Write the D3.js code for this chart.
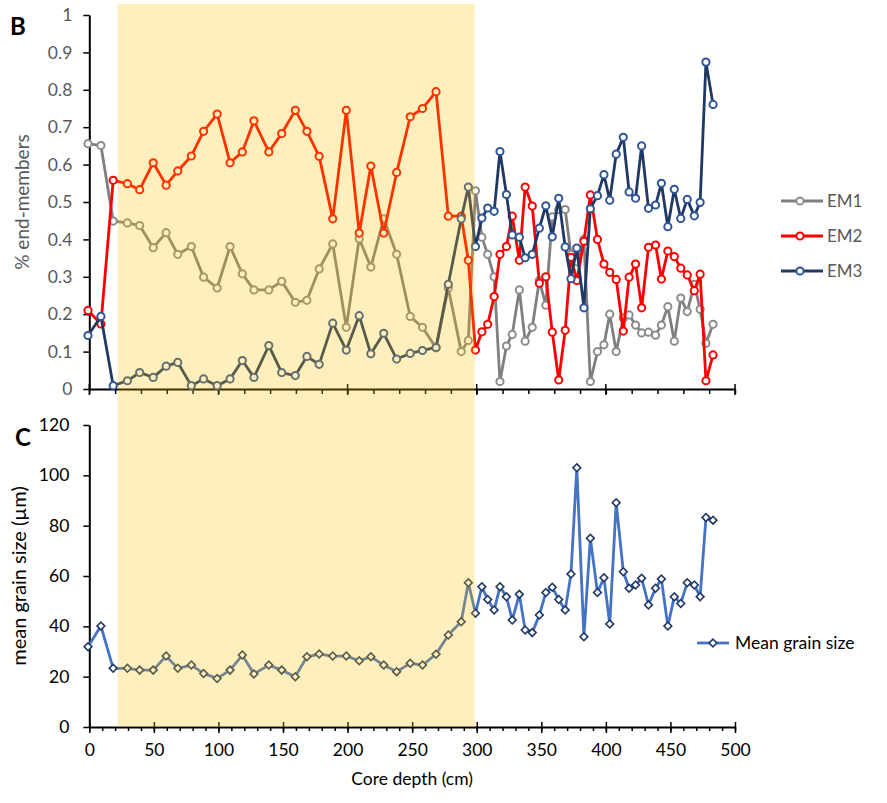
<!DOCTYPE html>
<html>
<head>
<meta charset="utf-8">
<script src="https://cdn.jsdelivr.net/npm/d3@7"></script>
<style>
body { margin: 0; background: #fff; }
svg text { font-family: Lato, "Liberation Sans", sans-serif; }
</style>
</head>
<body>
<svg id="chart" width="887" height="803"></svg>
<script>
// core depth (cm) of each sample, shared by both panels
var depth = [-1, 9, 18.5, 29.5, 39, 49.5, 59.5, 68.5, 79, 88.5, 99, 109, 118.5, 127.5, 139, 149, 159.5, 168.5, 178, 188.5,
    199, 209, 218, 228, 238, 248.5, 258, 268.5, 278, 288, 293.5,
    299, 304, 308.5, 313.5, 318, 323, 327.5, 333, 337.5, 343, 348.5, 353.5, 358.5, 363.5, 368.5, 373, 377.5, 383, 388, 393.5,
    398.5, 403, 408, 413.5, 418, 423, 427.7, 433, 438.5, 443, 448, 453, 458, 463, 468.5, 473, 477.5, 483];

var em1 = [0.656, 0.651, 0.449, 0.444, 0.437, 0.378, 0.418, 0.36, 0.381, 0.299, 0.27, 0.381, 0.308, 0.265, 0.265, 0.288, 0.232, 0.237, 0.321, 0.388,
    0.165, 0.402, 0.326, 0.455, 0.36, 0.194, 0.165, 0.11, 0.27, 0.10, 0.13,
    0.53, 0.406, 0.36, 0.30, 0.02, 0.115, 0.146, 0.265, 0.128, 0.165, 0.29, 0.224, 0.46, 0.48, 0.48, 0.36, 0.34, 0.40, 0.02, 0.10,
    0.118, 0.20, 0.10, 0.19, 0.198, 0.171, 0.15, 0.152, 0.144, 0.171, 0.22, 0.128, 0.243, 0.207, 0.28, 0.213, 0.122, 0.173];

var em2 = [0.21, 0.174, 0.558, 0.549, 0.533, 0.605, 0.545, 0.583, 0.623, 0.689, 0.735, 0.605, 0.634, 0.717, 0.634, 0.683, 0.745, 0.689, 0.622, 0.455,
    0.745, 0.417, 0.596, 0.417, 0.579, 0.728, 0.75, 0.795, 0.462, 0.462, 0.344,
    0.104, 0.153, 0.173, 0.247, 0.36, 0.381, 0.462, 0.344, 0.54, 0.489, 0.283, 0.30, 0.152, 0.024, 0.157, 0.352, 0.29, 0.395, 0.519, 0.40,
    0.334, 0.312, 0.293, 0.155, 0.299, 0.334, 0.217, 0.379, 0.385, 0.294, 0.369, 0.354, 0.323, 0.305, 0.263, 0.307, 0.022, 0.091];

var em3 = [0.143, 0.194, 0.009, 0.022, 0.044, 0.031, 0.061, 0.071, 0.009, 0.027, 0.009, 0.027, 0.076, 0.031, 0.116, 0.044, 0.036, 0.087, 0.066, 0.176,
    0.104, 0.196, 0.094, 0.149, 0.08, 0.095, 0.103, 0.111, 0.28, 0.455, 0.54,
    0.381, 0.457, 0.484, 0.475, 0.635, 0.52, 0.412, 0.406, 0.351, 0.36, 0.43, 0.49, 0.407, 0.51, 0.38, 0.295, 0.377, 0.217, 0.482, 0.517,
    0.573, 0.505, 0.628, 0.673, 0.527, 0.51, 0.65, 0.483, 0.492, 0.55, 0.434, 0.534, 0.456, 0.507, 0.463, 0.499, 0.874, 0.761];

// mean grain size (µm)
var grain = [31.9, 40.1, 23.3, 23.3, 22.6, 22.6, 28.2, 23.3, 24.6, 21.3, 19.3, 22.6, 28.6, 21.1, 24.6, 22.6, 20, 27.9, 29, 28.2,
    28.2, 26.3, 27.9, 24.6, 22, 25.3, 24.6, 28.9, 36.6, 41.8, 57.3,
    45.2, 55.7, 50.7, 46.5, 55.7, 51.8, 42.5, 52.7, 38.5, 37.5, 44.5, 53.4, 55.5, 50.7, 46.5, 60.8, 103, 35.9, 75, 53.4,
    59.3, 40.9, 89.1, 61.7, 55.1, 56.4, 59.1, 48.5, 55.1, 58.8, 40.1, 51.8, 49.1, 57.3, 56.4, 51.8, 83.2, 82.2];

var shadeDepth = [22, 298.5];
var topTicks = [0, 0.1, 0.2, 0.3, 0.4, 0.5, 0.6, 0.7, 0.8, 0.9, 1];
var topTickLabels = ['0', '0.1', '0.2', '0.3', '0.4', '0.5', '0.6', '0.7', '0.8', '0.9', '1'];
var botTicks = [0, 20, 40, 60, 80, 100, 120];
var depthTicks = [0, 50, 100, 150, 200, 250, 300, 350, 400, 450, 500];

var series = [
    { name: 'EM1', values: em1, line: '#7f7f7f', marker: '#8c8c8c' },
    { name: 'EM2', values: em2, line: '#ff0000', marker: '#ff0000' },
    { name: 'EM3', values: em3, line: '#1f3864', marker: '#2f5597' }
];

var x = d3.scaleLinear().domain([0, 500]).range([89.3, 735]);
var yTop = d3.scaleLinear().domain([0, 1]).range([389, 15]);
var yBot = d3.scaleLinear().domain([0, 120]).range([727, 425]);

var svg = d3.select('#chart');

// ---------------------------------------------------------------- axes
function styleAxis(g) {
    g.select('.domain').attr('stroke', '#000').attr('stroke-width', 2);
    g.selectAll('.tick line').attr('stroke', '#000').attr('stroke-width', 1.5);
    g.selectAll('.tick text').style('font-size', '17.5px');
}

// top panel, y
svg.append('g')
    .attr('transform', 'translate(' + x(0) + ',0)')
    .call(d3.axisLeft(yTop).tickValues(topTicks).tickSize(6).tickSizeOuter(0).tickPadding(11)
        .tickFormat(function (d, i) { return topTickLabels[i]; }))
    .call(styleAxis)
    .selectAll('.tick text').attr('fill', '#595959');

// top panel, x: minor ticks every 20, major crossing ticks every 100
svg.append('g')
    .attr('transform', 'translate(0,' + yTop(0) + ')')
    .call(d3.axisBottom(x).tickValues(d3.range(0, 501, 20)).tickSize(5).tickSizeOuter(0).tickFormat(''))
    .call(styleAxis);
svg.append('g').selectAll('line')
    .data(d3.range(0, 501, 100))
    .enter().append('line')
    .attr('x1', function (d) { return x(d); })
    .attr('x2', function (d) { return x(d); })
    .attr('y1', yTop(0) - 5)
    .attr('y2', yTop(0) + 6)
    .attr('stroke', '#000').attr('stroke-width', 1.5);

// bottom panel, y
svg.append('g')
    .attr('transform', 'translate(' + x(0) + ',0)')
    .call(d3.axisLeft(yBot).tickValues(botTicks).tickSize(6).tickSizeOuter(0).tickPadding(14))
    .call(styleAxis)
    .selectAll('.tick text').attr('fill', '#000');

// bottom panel, x
svg.append('g')
    .attr('transform', 'translate(0,' + yBot(0) + ')')
    .call(d3.axisBottom(x).tickValues(d3.range(0, 501, 10)).tickSize(4).tickSizeOuter(0).tickFormat(''))
    .call(styleAxis);
var bx = svg.append('g')
    .attr('transform', 'translate(0,' + yBot(0) + ')')
    .call(d3.axisBottom(x).tickValues(depthTicks).tickSize(6).tickSizeOuter(0).tickPadding(11));
bx.select('.domain').remove();
bx.selectAll('.tick line').attr('y1', -5).attr('stroke', '#000').attr('stroke-width', 1.5);
bx.selectAll('.tick text').style('font-size', '17.5px').attr('fill', '#000');

// ---------------------------------------------------------------- series
var lineTop = function (vals) {
    return d3.line().x(function (d, i) { return x(depth[i]); }).y(function (d) { return yTop(d); })(vals);
};

series.forEach(function (s) {
    var g = svg.append('g').attr('class', 'series ' + s.name);
    g.append('path')
        .attr('d', lineTop(s.values))
        .attr('fill', 'none')
        .attr('stroke', s.line)
        .attr('stroke-width', 2.8)
        .attr('stroke-linejoin', 'round');
    g.selectAll('circle')
        .data(s.values)
        .enter().append('circle')
        .attr('cx', function (d, i) { return x(depth[i]); })
        .attr('cy', function (d) { return yTop(d); })
        .attr('r', 3.6)
        .attr('fill', '#fff')
        .attr('stroke', s.marker)
        .attr('stroke-width', 2);
});

var gGrain = svg.append('g').attr('class', 'grain');
gGrain.append('path')
    .attr('d', d3.line().x(function (d, i) { return x(depth[i]); }).y(function (d) { return yBot(d); })(grain))
    .attr('fill', 'none')
    .attr('stroke', '#4472c4')
    .attr('stroke-width', 2.8)
    .attr('stroke-linejoin', 'round');
var diamond = d3.symbol().type(d3.symbolSquare).size(30);
gGrain.selectAll('path.mk')
    .data(grain)
    .enter().append('path')
    .attr('class', 'mk')
    .attr('d', diamond)
    .attr('transform', function (d, i) { return 'translate(' + x(depth[i]) + ',' + yBot(d) + ') rotate(45)'; })
    .attr('fill', '#fff')
    .attr('stroke', '#1f3864')
    .attr('stroke-width', 1.6);

// ---------------------------------------------------------------- shaded interval (drawn over the data)
svg.append('rect')
    .attr('x', x(shadeDepth[0]))
    .attr('width', x(shadeDepth[1]) - x(shadeDepth[0]))
    .attr('y', 4)
    .attr('height', yBot(0) - 4)
    .attr('fill', '#ffc000')
    .attr('fill-opacity', 0.26);

// ---------------------------------------------------------------- labels
svg.append('text').text('B')
    .attr('x', 18).attr('y', 35)
    .attr('text-anchor', 'middle')
    .style('font-size', '24px').style('font-weight', 'bold').attr('fill', '#000');
svg.append('text').text('C')
    .attr('x', 23).attr('y', 446)
    .attr('text-anchor', 'middle')
    .style('font-size', '24px').style('font-weight', 'bold').attr('fill', '#000');

svg.append('text').text('% end-members')
    .attr('transform', 'translate(29,' + yTop(0.5) + ') rotate(-90)')
    .attr('text-anchor', 'middle')
    .style('font-size', '19px').attr('fill', '#595959');
svg.append('text').text('mean grain size (\u00b5m)')
    .attr('transform', 'translate(26,' + yBot(60) + ') rotate(-90)')
    .attr('text-anchor', 'middle')
    .style('font-size', '20px').attr('fill', '#000');
svg.append('text').text('Core depth  (cm)')
    .attr('x', x(250)).attr('y', 785)
    .attr('text-anchor', 'middle')
    .style('font-size', '17.5px').attr('fill', '#000');

// ---------------------------------------------------------------- legends
var leg = svg.append('g').selectAll('g')
    .data(series)
    .enter().append('g')
    .attr('transform', function (d, i) { return 'translate(781,' + (201 + i * 35) + ')'; });
leg.append('line')
    .attr('x1', 0).attr('x2', 42)
    .attr('stroke', function (d) { return d.line; })
    .attr('stroke-width', 2.8);
leg.append('circle')
    .attr('cx', 19).attr('r', 3.6)
    .attr('fill', '#fff')
    .attr('stroke', function (d) { return d.marker; })
    .attr('stroke-width', 2);
leg.append('text')
    .text(function (d) { return d.name; })
    .attr('x', 46).attr('y', 6)
    .style('font-size', '17px').attr('fill', '#595959');

var leg2 = svg.append('g').attr('transform', 'translate(697,643)');
leg2.append('line').attr('x1', 0).attr('x2', 32)
    .attr('stroke', '#4472c4').attr('stroke-width', 2.8);
leg2.append('path').attr('d', diamond)
    .attr('transform', 'translate(16,0) rotate(45)')
    .attr('fill', '#fff').attr('stroke', '#1f3864').attr('stroke-width', 1.6);
leg2.append('text').text('Mean grain size')
    .attr('x', 38).attr('y', 6)
    .style('font-size', '17.5px').attr('fill', '#000');
</script>
</body>
</html>
